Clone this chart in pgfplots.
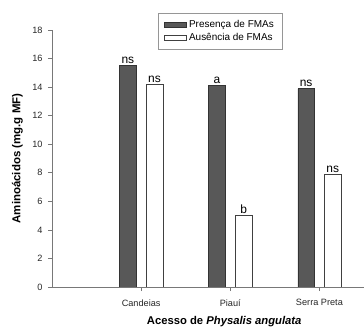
\documentclass[border=0pt]{standalone}
\usepackage{pgfplots}
\pgfplotsset{compat=1.18}
\usepackage{fontspec}
\setmainfont{Liberation Sans}

\definecolor{barDark}{RGB}{88,88,88}
\definecolor{axisGray}{RGB}{120,120,120}
\definecolor{legBorder}{RGB}{150,150,150}

\begin{document}
\begin{tikzpicture}
\begin{axis}[
  scale only axis,
  width=312bp, height=257bp,
  xmin=0, xmax=3.5,
  ymin=0, ymax=18,
  ytick={0,2,...,18},
  xtick={1,2,3},
  xticklabels={Candeias,Piauí,Serra Preta},
  axis lines*=left,
  axis line style={axisGray, line width=0.6pt},
  tick style={axisGray, line width=0.6pt},
  tick align=outside,
  major tick length=4bp,
  /pgf/number format/assume math mode=true,
  tick label style={font=\fontsize{9.2}{10}\selectfont, text=black!85},
  yticklabel style={xshift=-2bp},
  xticklabel style={yshift=-5bp},
  ylabel={\textbf{Aminoácidos (mg.g MF)}},
  ylabel style={at={(axis description cs:-0.1106,0.5)}, anchor=center, font=\fontsize{11.5}{13}\selectfont},
  xlabel={\textbf{Acesso de \textit{Physalis angulata}}},
  xlabel style={at={(axis description cs:0.552,0)}, anchor=base, yshift=-37bp, font=\fontsize{11.3}{13}\selectfont},
  ybar,
  bar width=16.7bp,
  point meta=explicit symbolic,
  nodes near coords,
  nodes near coords style={font=\fontsize{12}{14}\selectfont, inner sep=1.5bp, anchor=south},
  legend style={at={(axis description cs:0.340,1.067)}, anchor=north west,
    draw=legBorder, line width=0.6pt, font=\fontsize{10}{11}\selectfont,
    row sep=0bp, inner xsep=6bp, inner ysep=5bp,
    nodes={inner sep=2.2bp}},
  legend cell align=left,
  legend image code/.code={\draw[#1] (0bp,-2.8bp) rectangle (22bp,2.8bp);},
]
\addplot[bar shift=-13.3bp, fill=barDark, draw=black!80, line width=0.5pt]
  coordinates {(1,15.5) [ns] (2,14.1) [a] (3,13.9) [ns]};
\addlegendentry{Presença de FMAs}
\addplot[bar shift=13.3bp, fill=white, draw=black!75, line width=0.5pt]
  coordinates {(1,14.2) [ns] (2,5.0) [b] (3,7.9) [ns]};
\addlegendentry{Ausência de FMAs}
\end{axis}
\pgfresetboundingbox
\path[use as bounding box] (-52bp,-40bp) rectangle (312bp,287bp);
\end{tikzpicture}
\end{document}
